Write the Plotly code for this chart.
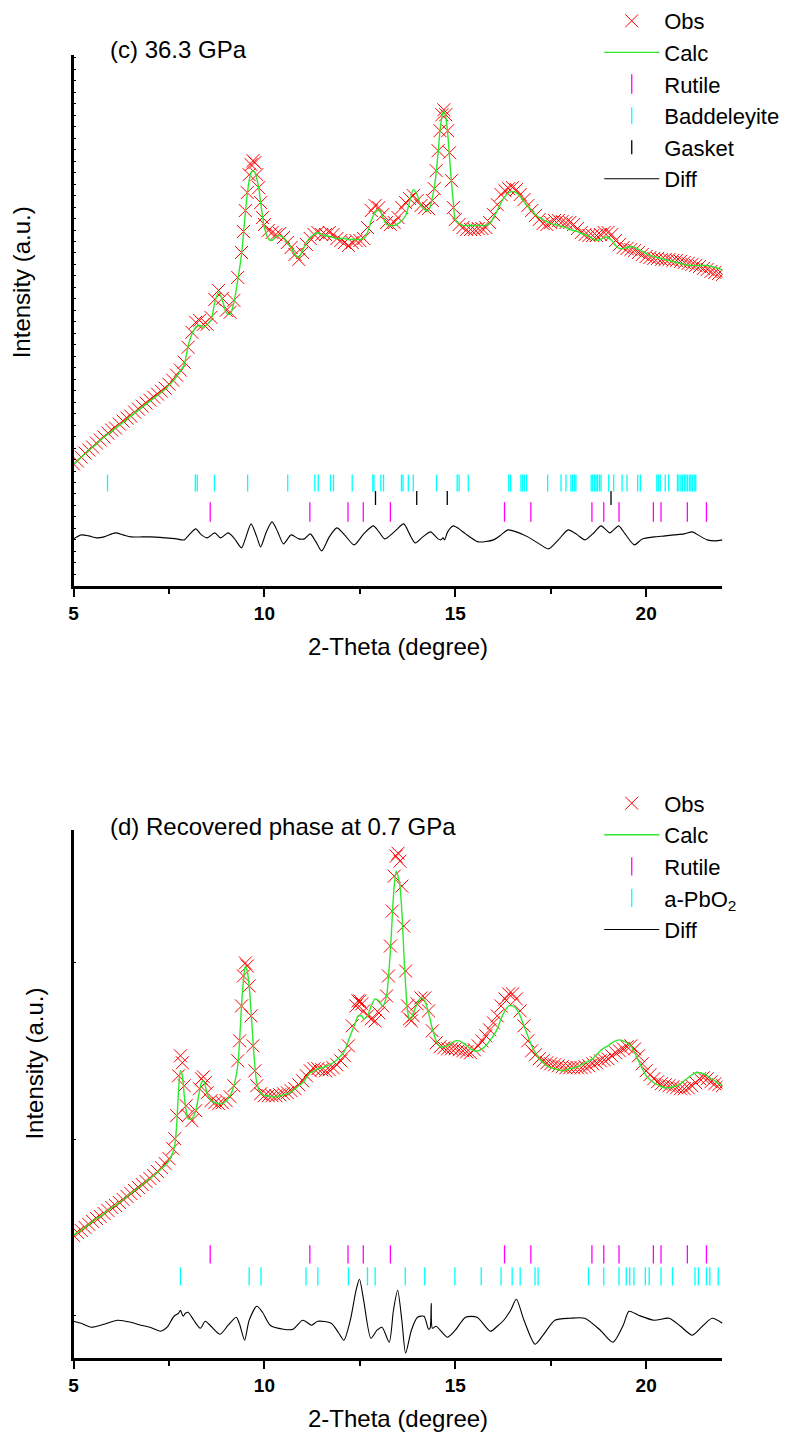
import plotly.graph_objects as go

FONT = "Liberation Sans"

# ---------------- (c) 36.3 GPa ----------------
two_theta_c = [5.0, 5.1, 5.2, 5.3, 5.4, 5.5, 5.6, 5.7, 5.8, 5.9, 6.0, 6.1, 6.2, 6.3, 6.4, 6.5, 6.6, 6.7, 6.8, 6.9,
               7.0, 7.1, 7.2, 7.3, 7.4, 7.5, 7.6, 7.7, 7.8, 7.9, 8.0, 8.1, 8.2, 8.3, 8.4, 8.5, 8.6, 8.7, 8.8, 8.9,
               9.0, 9.1, 9.2, 9.3, 9.4, 9.45, 9.5, 9.55, 9.6, 9.65, 9.7, 9.75, 9.8, 9.85, 9.9, 9.95,
               10.0, 10.1, 10.2, 10.3, 10.4, 10.5, 10.6, 10.7, 10.8, 10.9, 11.0, 11.1, 11.2, 11.3, 11.4, 11.5,
               11.6, 11.7, 11.8, 11.9, 12.0, 12.1, 12.2, 12.3, 12.4, 12.5, 12.6, 12.7, 12.8, 12.9, 13.0, 13.1,
               13.2, 13.3, 13.4, 13.5, 13.6, 13.7, 13.8, 13.9, 14.0, 14.1, 14.2, 14.3, 14.4, 14.45, 14.5, 14.55,
               14.6, 14.65, 14.7, 14.75, 14.8, 14.85, 14.9, 14.95, 15.0, 15.1, 15.2, 15.3, 15.4, 15.5, 15.6, 15.7,
               15.8, 15.9, 16.0, 16.1, 16.2, 16.3, 16.4, 16.5, 16.6, 16.7, 16.8, 16.9, 17.0, 17.1, 17.2, 17.3,
               17.4, 17.5, 17.6, 17.7, 17.8, 17.9, 18.0, 18.1, 18.2, 18.3, 18.4, 18.5, 18.6, 18.7, 18.8, 18.9,
               19.0, 19.1, 19.2, 19.3, 19.4, 19.5, 19.6, 19.7, 19.8, 19.9, 20.0, 20.1, 20.2, 20.3, 20.4, 20.5,
               20.6, 20.7, 20.8, 20.9, 21.0, 21.1, 21.2, 21.3, 21.4, 21.5, 21.6, 21.7, 21.8, 21.9, 22.0]
obs_c = [122, 125, 129, 133, 136, 139, 143, 146, 149, 153, 156, 158, 162, 165, 168, 170, 174, 177, 180, 183,
         186, 189, 192, 195, 198, 202, 206, 211, 216, 224, 239, 254, 264, 266, 262, 262, 269, 287, 296, 288,
         276, 274, 286, 309, 334, 355, 376, 394, 412, 422, 426, 424, 412, 399, 384, 369,
         362, 356, 354, 352, 353, 349, 344, 339, 332, 327, 334, 342, 348, 352, 354, 352,
         352, 354, 352, 348, 346, 344, 341, 344, 346, 346, 348, 359, 376, 381, 379, 372,
         364, 362, 364, 369, 379, 384, 388, 391, 386, 381, 379, 378, 386, 398, 416, 436,
         456, 472, 477, 472, 456, 434, 406, 379, 367, 362, 359, 357, 357, 357, 358, 358,
         359, 364, 372, 382, 392, 396, 398, 399, 397, 392, 387, 381, 376, 371, 367, 363,
         362, 364, 366, 366, 365, 364, 364, 362, 358, 354, 352, 351, 351, 351, 352, 354,
         354, 352, 346, 342, 339, 338, 337, 336, 334, 332, 330, 329, 328, 328, 327, 327,
         327, 326, 326, 325, 324, 323, 322, 321, 320, 318, 317, 315, 314, 313, 312]
calc_c = [122, 125, 129, 132, 136, 139, 142, 146, 149, 152, 155, 158, 161, 164, 167, 170, 173, 176, 179, 182,
          185, 188, 191, 194, 197, 201, 205, 210, 215, 222, 240, 252, 259, 261, 259, 262, 266, 284, 294, 286,
          274, 272, 284, 306, 332, 352, 374, 392, 406, 414, 416, 414, 408, 399, 384, 371,
          359, 348, 346, 350, 351, 349, 344, 339, 332, 329, 336, 344, 349, 352, 354, 352,
          351, 350, 349, 348, 348, 348, 347, 347, 347, 347, 348, 354, 366, 374, 377, 370,
          362, 361, 361, 363, 366, 371, 384, 397, 392, 381, 377, 376, 389, 399, 414, 434,
          456, 470, 476, 470, 454, 429, 404, 384, 367, 363, 361, 361, 361, 361, 361, 361,
          361, 363, 369, 376, 384, 390, 394, 395, 394, 390, 385, 380, 376, 372, 369, 367,
          365, 363, 362, 361, 360, 359, 357, 356, 355, 353, 352, 350, 348, 346, 347, 349,
          349, 346, 341, 338, 338, 339, 340, 339, 337, 335, 333, 331, 330, 329, 328, 327,
          326, 325, 324, 323, 322, 321, 321, 321, 321, 321, 321, 320, 319, 318, 316]
diff_theta_c = [5.0, 5.2, 5.4, 5.6, 5.8, 6.0, 6.1, 6.3, 6.5, 6.8, 7.0, 7.4, 7.7, 7.9, 8.05, 8.2, 8.35, 8.5,
                8.7, 8.85, 9.05, 9.2, 9.4, 9.5, 9.65, 9.8, 9.9, 10.05, 10.2, 10.35, 10.5, 10.7, 10.9, 11.05,
                11.2, 11.35, 11.5, 11.7, 11.9, 12.1, 12.35, 12.6, 12.85, 13.0, 13.15, 13.4, 13.65, 13.8, 13.95,
                14.15, 14.35, 14.55, 14.62, 14.68, 14.72, 14.8, 14.95, 15.1, 15.27, 15.6, 16.0, 16.2, 16.38,
                16.6, 16.9, 17.2, 17.44, 17.7, 17.96, 18.2, 18.4, 18.6, 18.82, 18.95, 19.05, 19.15, 19.28,
                19.45, 19.69, 19.9, 20.21, 20.5, 20.73, 21.0, 21.21, 21.4, 21.6, 21.8, 22.0]
diff_c = [47, 51, 50, 48, 49, 52, 53, 51, 49, 49, 49, 48, 47, 46, 52, 57, 51, 48,
          53, 48, 53, 48, 38, 47, 62, 49, 39, 54, 64, 54, 42, 51, 47, 47,
          52, 44, 35, 49, 58, 51, 41, 52, 60, 54, 47, 54, 62, 52, 43,
          49, 54, 47, 46, 48, 46, 54, 60, 57, 52, 44, 46, 51, 56,
          54, 49, 42, 37, 46, 56, 51, 46, 52, 60, 56, 53, 56, 60,
          52, 41, 47, 49, 50, 51, 52, 54, 50, 46, 45, 46]

# Bragg reflection positions (2-theta, degree)
rutile_pos = [8.58, 11.19, 12.19, 12.59, 13.30, 16.29, 16.98, 18.58, 18.89, 19.29, 20.19, 20.39, 21.08, 21.58]
baddeleyite_pos = [5.89, 8.19, 8.24, 8.69, 9.56, 10.61, 11.32, 11.41, 11.73, 11.81, 12.30, 12.84, 12.87,
                   13.05, 13.12, 13.59, 13.63, 13.77, 13.90, 14.51, 15.05, 15.10, 15.34, 16.40, 16.45,
                   16.72, 16.76, 16.81, 16.87, 17.42, 17.77, 17.90, 18.03, 18.07, 18.12, 18.16, 18.56,
                   18.60, 18.65, 18.69, 18.73, 18.78, 18.82, 19.02, 19.15, 19.37, 19.50, 19.78, 19.85,
                   20.28, 20.32, 20.37, 20.50, 20.59, 20.82, 20.86, 20.91, 20.95, 21.00, 21.04, 21.08,
                   21.13, 21.17, 21.21, 21.26, 21.30]
gasket_pos = [12.91, 13.99, 14.79, 19.08]

# ---------------- (d) recovered phase at 0.7 GPa ----------------
two_theta_d = [5.0, 5.1, 5.2, 5.3, 5.4, 5.5, 5.6, 5.7, 5.8, 5.9, 6.0, 6.1, 6.2, 6.3, 6.4, 6.5, 6.6, 6.7, 6.8, 6.9,
               7.0, 7.1, 7.2, 7.3, 7.4, 7.5, 7.6, 7.65, 7.7, 7.75, 7.8, 7.85, 7.9, 7.95, 8.0, 8.1, 8.2, 8.3,
               8.35, 8.4, 8.45, 8.5, 8.6, 8.7, 8.8, 8.9, 9.0, 9.1, 9.2, 9.3, 9.35, 9.4, 9.45, 9.5, 9.55, 9.6,
               9.65, 9.7, 9.75, 9.8, 9.9, 10.0, 10.1, 10.2, 10.3, 10.4, 10.5, 10.6, 10.7, 10.8, 10.9, 11.0,
               11.1, 11.2, 11.3, 11.4, 11.5, 11.6, 11.7, 11.8, 11.9, 12.0, 12.1, 12.2, 12.3, 12.4, 12.45,
               12.5, 12.55, 12.6, 12.7, 12.8, 12.9, 13.0, 13.1, 13.2, 13.25, 13.3, 13.35, 13.4, 13.45, 13.5,
               13.55, 13.6, 13.65, 13.7, 13.75, 13.8, 13.85, 13.9, 14.0, 14.1, 14.2, 14.3, 14.4, 14.5, 14.6,
               14.7, 14.8, 14.9, 15.0, 15.1, 15.2, 15.3, 15.4, 15.5, 15.6, 15.7, 15.8, 15.9, 16.0, 16.1, 16.2,
               16.3, 16.4, 16.5, 16.6, 16.7, 16.8, 16.9, 17.0, 17.1, 17.2, 17.3, 17.4, 17.5, 17.6, 17.7, 17.8,
               17.9, 18.0, 18.1, 18.2, 18.3, 18.4, 18.5, 18.6, 18.7, 18.8, 18.9, 19.0, 19.1, 19.2, 19.3, 19.4,
               19.5, 19.6, 19.7, 19.8, 19.9, 20.0, 20.1, 20.2, 20.3, 20.4, 20.5, 20.6, 20.7, 20.8, 20.9, 21.0,
               21.1, 21.2, 21.3, 21.4, 21.5, 21.6, 21.7, 21.8, 21.9, 22.0]
obs_d = [123, 126, 128, 131, 134, 137, 140, 142, 145, 148, 151, 153, 156, 159, 162, 165, 168, 171, 174, 177,
         180, 183, 187, 191, 195, 200, 210, 220, 243, 283, 303, 296, 273, 253, 243, 238, 248, 270,
         280, 282, 276, 266, 258, 256, 255, 256, 258, 262, 273, 298, 318, 353, 383, 396, 393, 373,
         343, 313, 288, 273, 265, 263, 263, 263, 263, 264, 265, 266, 268, 270, 274, 278,
         283, 288, 290, 290, 289, 288, 289, 291, 294, 298, 303, 313, 333, 353, 358,
         358, 355, 348, 343, 340, 338, 346, 353, 363, 383, 413, 448, 483, 503, 506,
         498, 473, 433, 388, 353, 340, 338, 343, 355, 361, 361, 348, 328, 316, 312,
         311, 310, 310, 310, 309, 308, 307, 306, 309, 313, 318, 323, 329, 336, 343, 353,
         360, 365, 365, 360, 348, 333, 318, 308, 304, 300, 298, 296, 295, 294, 293, 292,
         291, 291, 291, 291, 291, 292, 293, 295, 296, 298, 299, 300, 303, 306, 308, 310,
         312, 313, 310, 303, 295, 288, 284, 280, 277, 275, 274, 273, 272, 271, 270, 270,
         271, 273, 276, 280, 281, 280, 277, 275, 274, 273]
calc_d = [123, 126, 128, 131, 134, 137, 140, 142, 145, 148, 151, 153, 156, 159, 162, 165, 168, 171, 174, 177,
          180, 183, 186, 190, 193, 198, 206, 213, 233, 268, 288, 283, 263, 248, 240, 240, 248, 268,
          276, 278, 273, 265, 258, 256, 255, 255, 258, 263, 273, 293, 318, 353, 378, 393, 388, 373,
          348, 318, 293, 276, 266, 263, 263, 262, 262, 263, 264, 265, 267, 270, 273, 276,
          281, 286, 288, 290, 291, 292, 294, 296, 299, 303, 308, 318, 328, 338, 343,
          343, 343, 340, 343, 353, 360, 358, 353, 363, 383, 408, 443, 473, 488, 483,
          473, 448, 408, 373, 348, 340, 340, 346, 355, 361, 358, 346, 330, 318, 312,
          312, 313, 316, 318, 318, 316, 313, 310, 308, 308, 310, 313, 318, 323, 330, 340,
          348, 353, 353, 350, 343, 333, 323, 313, 306, 300, 296, 293, 291, 290, 289, 288,
          289, 290, 291, 292, 294, 296, 298, 300, 304, 308, 311, 313, 316, 318, 319, 318,
          316, 313, 306, 298, 290, 283, 279, 276, 274, 272, 271, 271, 272, 273, 275, 278,
          281, 284, 286, 286, 285, 283, 280, 278, 275, 273]
diff_theta_d = [5.0, 5.2, 5.46, 5.8, 6.15, 6.5, 6.76, 7.0, 7.28, 7.45, 7.63, 7.75, 7.8, 7.87, 7.93, 8.0,
                8.15, 8.32, 8.45, 8.6, 8.84, 9.05, 9.26, 9.35, 9.48, 9.6, 9.8, 9.95, 10.15, 10.5, 10.75,
                11.0, 11.15, 11.23, 11.4, 11.75, 11.95, 12.08, 12.25, 12.4, 12.49, 12.6, 12.79, 12.95,
                13.08, 13.27, 13.38, 13.49, 13.6, 13.7, 13.85, 14.01, 14.18, 14.3, 14.34, 14.37, 14.4,
                14.5, 14.79, 15.0, 15.27, 15.57, 15.92, 16.1, 16.27, 16.45, 16.6, 16.8, 17.09, 17.3,
                17.61, 18.0, 18.39, 18.8, 19.13, 19.4, 19.55, 19.8, 20.21, 20.6, 20.9, 21.21, 21.5,
                21.73, 22.0]
diff_d = [37, 35, 31, 34, 38, 36, 33, 31, 27, 31, 42, 45, 48, 42, 45, 46,
          38, 30, 37, 32, 24, 33, 41, 34, 18, 38, 52, 46, 33, 29, 29,
          38, 35, 33, 37, 35, 25, 18, 38, 68, 79, 58, 20, 28,
          31, 16, 48, 68, 38, 5, 28, 41, 42, 29, 30, 55, 30,
          32, 21, 28, 41, 41, 27, 32, 38, 48, 59, 38, 14, 23,
          38, 40, 40, 28, 16, 33, 47, 43, 38, 40, 32, 23, 33,
          40, 35]

pbo2_pos = [7.80, 9.60, 9.91, 11.09, 11.40, 12.20, 12.70, 12.90, 13.69, 14.20, 14.99, 15.68, 16.20,
            16.49, 16.70, 17.09, 17.17, 18.49, 18.89, 19.29, 19.48, 19.57, 19.68, 19.98, 20.08, 20.39,
            20.69, 21.28, 21.37, 21.58, 21.67, 21.89]

# ---------------- styling ----------------
RED, GREEN, MAGENTA, CYAN = "#ff0000", "#2ee82e", "#ff00ff", "#00ffff"
FIG_W, FIG_H = 797, 1434
X0, X1 = 69, 722                      # plot area, horizontal pixels
TOP_C, BOT_C = 52, 584                # panel (c), vertical pixels
TOP_D, BOT_D = 829, 1358              # panel (d), vertical pixels
ROWS_C = {"Baddeleyite": 103, "Gasket": 88, "Rutile": 74}
ROWS_D = {"Rutile": 104, "a-PbO2": 82}
TITLE_SIZE = 24


def px(x):
    return x / FIG_W


def py(y):
    return 1 - y / FIG_H


def obs_trace(x, y, ax, lg):
    return go.Scatter(x=x, y=y, mode="markers", name="Obs", xaxis=ax[0], yaxis=ax[1], legend=lg,
                      marker=dict(symbol="x-thin", size=13, color=RED, line=dict(width=1.0, color=RED)))


def calc_trace(x, y, ax, lg):
    return go.Scatter(x=x, y=y, mode="lines", name="Calc", xaxis=ax[0], yaxis=ax[1], legend=lg,
                      line=dict(color=GREEN, width=1.4, shape="spline", smoothing=0.8))


def bragg_trace(pos, level, name, color, ax, lg, size=13):
    return go.Scatter(x=pos, y=[level] * len(pos), mode="markers", name=name,
                      xaxis=ax[0], yaxis=ax[1], legend=lg,
                      marker=dict(symbol="line-ns", size=size, color=color, line=dict(width=1.3, color=color)))


def diff_trace(x, y, ax, lg):
    return go.Scatter(x=x, y=y, mode="lines", name="Diff", xaxis=ax[0], yaxis=ax[1], legend=lg,
                      line=dict(color="black", width=1.1, shape="spline", smoothing=0.7))


fig = go.Figure()
ax_c, ax_d = ("x", "y"), ("x2", "y2")

fig.add_trace(obs_trace(two_theta_c, obs_c, ax_c, "legend"))
fig.add_trace(calc_trace(two_theta_c, calc_c, ax_c, "legend"))
fig.add_trace(bragg_trace(rutile_pos, ROWS_C["Rutile"], "Rutile", MAGENTA, ax_c, "legend", 14))
fig.add_trace(bragg_trace(baddeleyite_pos, ROWS_C["Baddeleyite"], "Baddeleyite", CYAN, ax_c, "legend", 12))
fig.add_trace(bragg_trace(gasket_pos, ROWS_C["Gasket"], "Gasket", "black", ax_c, "legend", 10))
fig.add_trace(diff_trace(diff_theta_c, diff_c, ax_c, "legend"))

fig.add_trace(obs_trace(two_theta_d, obs_d, ax_d, "legend2"))
fig.add_trace(calc_trace(two_theta_d, calc_d, ax_d, "legend2"))
fig.add_trace(bragg_trace(rutile_pos, ROWS_D["Rutile"], "Rutile", MAGENTA, ax_d, "legend2", 13))
fig.add_trace(bragg_trace(pbo2_pos, ROWS_D["a-PbO2"], "a-PbO<sub>2</sub>", CYAN, ax_d, "legend2", 13))
fig.add_trace(diff_trace(diff_theta_d, diff_d, ax_d, "legend2"))

xaxis_style = dict(
    range=[5, 22], tickvals=[5, 10, 15, 20], ticks="outside", ticklen=8, tickwidth=2, tickcolor="black",
    showline=True, linewidth=3, linecolor="black", showgrid=False, zeroline=False,
    tickfont=dict(family=FONT, size=19, color="black", weight="bold"),
    minor=dict(tickvals=[7.5, 12.5, 17.5], ticks="outside", ticklen=5, tickwidth=2, tickcolor="black"),
    domain=[px(X0), px(X1)],
)
yaxis_style = dict(showline=True, linewidth=2.5, linecolor="black", showgrid=False, zeroline=False,
                   showticklabels=False, ticks="inside", ticklen=3, tickwidth=1, tickcolor="black")

legend_style = dict(xanchor="left", yanchor="top", bgcolor="rgba(0,0,0,0)", itemwidth=55,
                    font=dict(family=FONT, size=22), tracegroupgap=0)

fig.update_layout(
    width=FIG_W, height=FIG_H, margin=dict(l=0, r=0, t=0, b=0),
    paper_bgcolor="white", plot_bgcolor="white",
    font=dict(family=FONT, color="black", size=22),
    xaxis=dict(anchor="y", **xaxis_style),
    yaxis=dict(anchor="x", range=[0, BOT_C - TOP_C], domain=[py(BOT_C), py(TOP_C)],
               tick0=0, dtick=11.5, **yaxis_style),
    xaxis2=dict(anchor="y2", **xaxis_style),
    yaxis2=dict(anchor="x2", range=[0, BOT_D - TOP_D], domain=[py(BOT_D), py(TOP_D)],
                tick0=43, dtick=176.5, **yaxis_style),
    legend=dict(x=px(598), y=py(-3), **legend_style),
    legend2=dict(x=px(598), y=py(781), **legend_style),
    showlegend=True,
)

annotations = [
    dict(text="(c) 36.3 GPa", x=px(104), y=py(47), xanchor="left", yanchor="middle"),
    dict(text="2-Theta (degree)", x=px((X0 + X1) / 2), y=py(645), xanchor="center", yanchor="middle"),
    dict(text="Intensity (a.u.)", x=px(17), y=py(280), textangle=-90, xanchor="center", yanchor="middle"),
    dict(text="(d) Recovered phase at 0.7 GPa", x=px(104), y=py(825), xanchor="left", yanchor="middle"),
    dict(text="2-Theta (degree)", x=px((X0 + X1) / 2), y=py(1418), xanchor="center", yanchor="middle"),
    dict(text="Intensity (a.u.)", x=px(30), y=py(1063), textangle=-90, xanchor="center", yanchor="middle"),
]
for a in annotations:
    a.update(xref="paper", yref="paper", showarrow=False,
             font=dict(family=FONT, size=TITLE_SIZE, color="black"))
fig.update_layout(annotations=annotations)

fig.write_html("out.html")
